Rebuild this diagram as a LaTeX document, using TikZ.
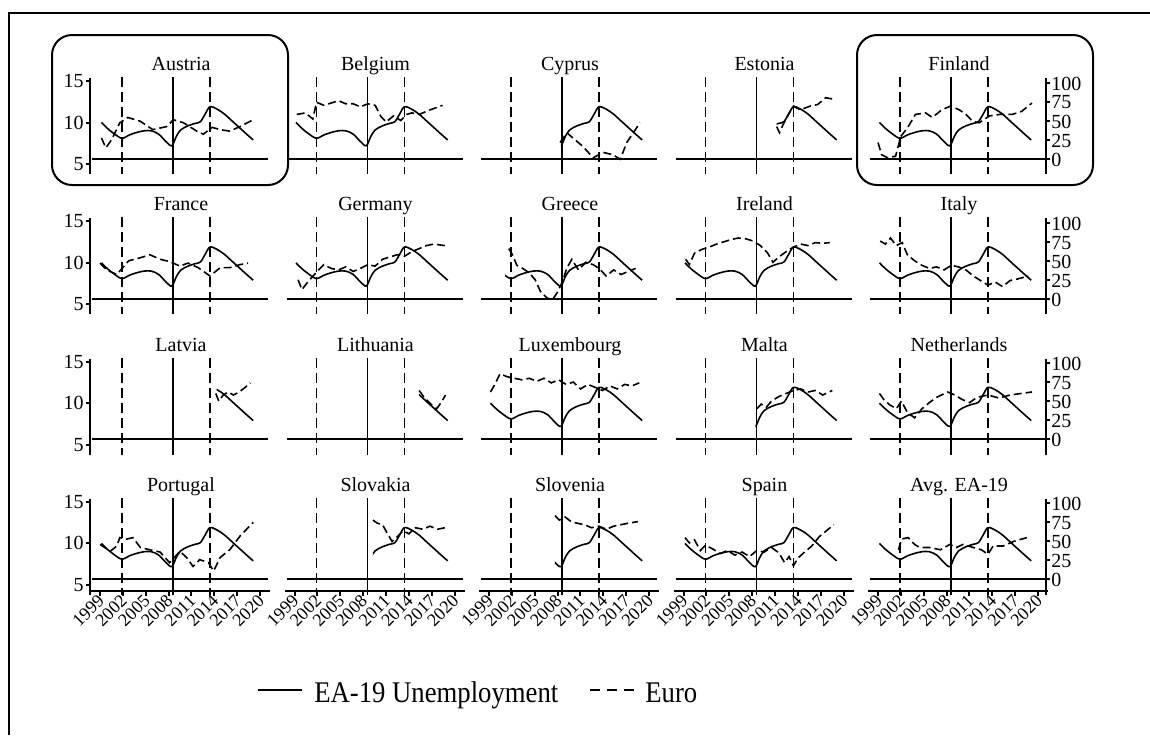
\documentclass[tikz,border=0pt]{standalone}
\usepackage{fontspec}
\setmainfont{Liberation Serif}
\tikzset{
  ealine/.style={line width=0.8pt, line join=round},
  euroline/.style={line width=0.8pt, dash pattern=on 4pt off 2pt},
  refline/.style={line width=0.8pt},
  refdash/.style={line width=0.8pt, dash pattern=on 5pt off 2.5pt},
  axisline/.style={line width=1pt},
  countrybox/.style={line width=1pt, rounded corners=10pt},
  ttl/.style={font=\fontsize{10}{12}\selectfont, inner sep=0pt, anchor=base},
  ticklbl/.style={font=\fontsize{10}{12}\selectfont, inner sep=1pt},
  yearlbl/.style={font=\fontsize{9}{11}\selectfont, rotate=45, anchor=east, inner sep=0.5pt},
  legendlbl/.style={font=\fontsize{15}{18}\selectfont, xscale=0.89, anchor=base west, inner sep=0pt},
  unemaxes/.style 2 args={shift={(100+194.5*#1,205.5+140.3*#2)}, x=3.665pt, y=4.15pt},
  euroaxes/.style 2 args={shift={(100+194.5*#1,158.5+140.3*#2)}, x=3.665pt, y=0.38pt}
}
% EA-19 unemployment, drawn from the year the country joined
\newcommand{\eacurve}[3]{%
  \begin{scope}[unemaxes={#1}{#2}]
    \clip (#3,0) rectangle (23,20);
    \draw[ealine] plot[smooth, tension=0.55] coordinates {(0.2,10.0) (1,9.3) (2,8.6) (3,8.1) (4,8.5) (5,8.8) (6,9.0) (7,9.0) (8,8.6) (9,7.7) (9.8,7.2) (10.4,8.3) (11,9.1) (12,9.6) (13,9.9) (13.7,10.1) (14.4,11.1) (15,11.9) (16,11.6) (17,11.0) (18,10.2) (19,9.4) (20,8.6) (20.9,7.9)};
  \end{scope}}
% support for the euro, right scale 0--100
\newcommand{\eurocurve}[3]{%
  \begin{scope}[euroaxes={#1}{#2}]
    \draw[euroline] plot coordinates {#3};
  \end{scope}}

\begin{document}
\begin{tikzpicture}[x=0.5pt, y=-0.5pt]
  \useasboundingbox (0,0) rectangle (1150,735);
  \draw[axisline] (9,735) -- (9,13) -- (1150,13);

  % highlighted countries
  \draw[countrybox] (52,35) rectangle (288,185);
  \draw[countrybox] (857,35) rectangle (1093,185);

  % panels
  \foreach \cname/\tbeg [count=\i from 0] in {Austria/0, Belgium/0, Cyprus/9.8, Estonia/12.7, Finland/0,
      France/0, Germany/0, Greece/2.2, Ireland/0, Italy/0,
      Latvia/15.9, Lithuania/17, Luxembourg/0, Malta/9.8, Netherlands/0,
      Portugal/0, Slovakia/10.7, Slovenia/9, Spain/0, Avg. EA-19/0} {
    \pgfmathtruncatemacro{\pc}{mod(\i,5)}
    \pgfmathtruncatemacro{\pr}{floor(\i/5)}
    \begin{scope}[shift={(194.5*\pc,140.3*\pr)}]
      \node[ttl] (ttl-\i) at (181,70.5) {\cname};
      \draw[refdash] (122,77) -- (122,174);
      \draw[refline] (173,77) -- (173,174);
      \draw[refdash] (210,77) -- (210,174);
      \draw[axisline] (92,158.5) -- (268,158.5);
    \end{scope}
    \eacurve{\pc}{\pr}{\tbeg}
  }

  % left scale (unemployment) and right scale (euro)
  \foreach \pr in {0,...,3} {
    \begin{scope}[shift={(0,140.3*\pr)}]
      \draw[axisline] (90,78) -- (90,174);
      \draw[axisline] (86,81) -- (90,81) (86,122.5) -- (90,122.5) (86,164) -- (90,164);
      \node[ticklbl, anchor=east] (lft15-\pr) at (86,81) {15};
      \node[ticklbl, anchor=east] (lft10-\pr) at (86,122.5) {10};
      \node[ticklbl, anchor=east] (lft5-\pr) at (86,164) {5};
      \draw[axisline] (1046,78) -- (1046,174);
      \foreach \ev [count=\k from 0] in {0,25,50,75,100} {
        \draw[axisline] (1046,{158.5-0.76*\ev}) -- (1050,{158.5-0.76*\ev});
        \node[ticklbl, anchor=west] (rgt\k-\pr) at (1049,{159.5-0.76*\ev}) {\ev};
      }
    \end{scope}
  }

  % time axis under the last row
  \foreach \pc in {0,...,4} {
    \begin{scope}[shift={(194.5*\pc,421)}]
      \draw[axisline] (90,170) -- (270,170);
      \foreach \yr [count=\k from 0] in {1999,2002,...,2020} {
        \draw[axisline] ({100+22.86*\k},170) -- ({100+22.86*\k},175);
        \node[yearlbl] (yr-\pc-\k) at ({102+22.86*\k},176) {\yr};
      }
    \end{scope}
  }

  % euro support per country
  \eurocurve{0}{0}{(0.2,27) (0.8,14) (1.6,25) (2.7,47) (3.8,54) (5.5,49) (7.2,38) (9.1,42) (10,51) (11.4,47) (13.2,36) (14.1,32) (15.3,41) (16.4,38) (17.7,36) (19.1,42) (20.9,51)}
  \eurocurve{1}{0}{(0.3,58) (1.5,60) (2.5,52) (3,74) (4,70) (5,73) (6,76) (7,72) (8,72) (9,68) (10,72) (11,70) (11.8,55) (12.5,48) (13.5,56) (14.5,50) (15.3,58) (16,60) (17,58) (18.5,64) (20.2,70)}
  \eurocurve{2}{0}{(9.7,21) (10.6,34) (11.7,25) (12.8,16) (14.2,1) (15.6,8) (16.9,5) (17.9,-1) (18.8,21) (20.6,47)}
  \eurocurve{3}{0}{(12.7,42) (13.1,34) (13.6,45) (14.3,58) (15,69) (15.9,64) (17.3,69) (18.3,71) (19.4,80) (20.5,78)}
  \eurocurve{4}{0}{(0,21) (0.5,5) (1.3,1) (2.4,3) (3.1,29) (4,40) (5.1,58) (6.5,60) (7.4,54) (8.7,64) (9.9,69) (11.1,64) (12,58) (12.9,49) (13.8,47) (15.2,56) (16.6,58) (18.3,58) (19.6,62) (21,73)}
  \eurocurve{0}{1}{(0,47) (0.9,38) (2.3,32) (3.9,50) (5.5,54) (6.8,58) (8.2,52) (9.5,49) (10.9,43) (12,47) (13.4,41) (15,30) (16.4,41) (17.7,41) (19.1,45) (20.2,47)}
  \eurocurve{1}{1}{(0.5,25) (1,12) (1.8,22) (3,35) (4,45) (5,40) (6,38) (7,42) (8,36) (9,40) (10,45) (11,43) (12,52) (13,55) (14,58) (15,56) (16,62) (17,66) (18,70) (19,72) (20.5,70)}
  \eurocurve{2}{1}{(2.7,66) (3.2,58) (3.8,44) (4.6,40) (5.5,34) (6.3,25) (7,10) (7.8,2) (8.6,-2) (9.3,8) (10,22) (10.6,40) (11.3,52) (12.2,38) (13.2,48) (14.2,45) (15,40) (16,30) (17,38) (18,32) (19,36) (20,40)}
  \eurocurve{3}{1}{(0.3,52) (0.8,45) (1.5,60) (2.5,65) (3.5,68) (4.5,72) (5.5,75) (6.5,78) (7.5,80) (8.5,79) (9.5,76) (10.5,70) (11.5,60) (12.2,48) (13,55) (14,62) (15,68) (16,72) (17,70) (18,74) (19,73) (20,74)}
  \eurocurve{4}{1}{(0.3,76) (1,72) (1.7,80) (2.5,70) (3.3,74) (4,58) (5,50) (6,44) (7,40) (8,42) (9,38) (10,44) (11,42) (12,38) (13,30) (14,24) (15,18) (16,22) (17,16) (18,24) (19,26) (20.5,30)}
  \eurocurve{0}{2}{(15.8,60) (16.2,50) (16.8,58) (17.5,62) (18.2,58) (19,62) (19.8,68) (20.5,74)}
  \eurocurve{1}{2}{(17,64) (17.6,56) (18.2,50) (18.8,44) (19.4,40) (20,48) (20.6,58)}
  \eurocurve{2}{2}{(0.2,62) (0.8,72) (1.5,86) (2.5,82) (3.5,80) (4.5,78) (5.5,80) (6.5,76) (7.5,80) (8.5,74) (9.5,78) (10.5,72) (11.5,75) (12.5,66) (13.5,72) (14.5,68) (15.5,64) (16.5,70) (17.5,66) (18.5,72) (19.5,70) (20.5,74)}
  \eurocurve{3}{2}{(10,40) (10.6,46) (11.3,42) (12,50) (13,56) (14,60) (15,64) (16,66) (17,62) (18,64) (19,58) (20.3,64)}
  \eurocurve{4}{2}{(0.2,60) (0.8,52) (1.6,45) (2.5,40) (3.2,50) (4,35) (5,28) (6,40) (7,48) (8,55) (9.5,62) (10.5,58) (11.5,52) (12.5,48) (13.5,55) (15,58) (16.5,54) (18,58) (19.5,60) (21,62)}
  \eurocurve{0}{3}{(0,46) (1.4,37) (2.3,44) (2.7,55) (3.6,53) (4.5,55) (5.5,42) (6.8,39) (8.2,36) (9.5,22) (10.9,37) (11.8,29) (12.7,17) (13.6,26) (14.8,22) (15.5,11) (16.4,29) (17.7,39) (19.1,57) (20.9,75)}
  \eurocurve{1}{3}{(10.7,78) (11.3,74) (12,72) (12.7,60) (13.3,50) (14,56) (14.8,64) (15.6,60) (16.5,68) (17.5,66) (18.5,70) (19.5,66) (20.5,68)}
  \eurocurve{2}{3}{(9,84) (9.6,78) (10.4,82) (11.2,76) (12,74) (13,72) (14,68) (15,70) (16,66) (17,70) (18,72) (19,74) (20.3,76)}
  \eurocurve{3}{3}{(0.2,55) (0.8,48) (1.5,52) (2.3,38) (3,45) (4,40) (5,34) (6,38) (7,32) (8,36) (9,30) (10,38) (11,36) (12,42) (13,35) (13.8,22) (14.4,30) (15,18) (15.6,28) (16.4,35) (17.5,44) (18.5,56) (19.5,64) (20.5,72)}
  \eurocurve{4}{3}{(2.8,39) (3.2,53) (4.1,55) (5,46) (5.7,42) (7.1,42) (8.5,39) (9.8,46) (10.7,42) (11.6,46) (13,42) (14.1,39) (15,33) (15.7,44) (17.1,44) (18.5,50) (20.3,55)}

  % legend
  \coordinate (lgea-a) at (258,690);
  \coordinate (lgea-b) at (302,690);
  \draw[ealine] (lgea-a) -- (lgea-b);
  \node[legendlbl] (lgea) at (314,702) {EA-19 Unemployment};
  \coordinate (lgeu-a) at (590,690);
  \coordinate (lgeu-b) at (634,690);
  \draw[line width=0.8pt, dash pattern=on 5pt off 3.5pt] (lgeu-a) -- (lgeu-b);
  \node[legendlbl] (lgeu) at (645,702) {Euro};
\end{tikzpicture}
\end{document}
